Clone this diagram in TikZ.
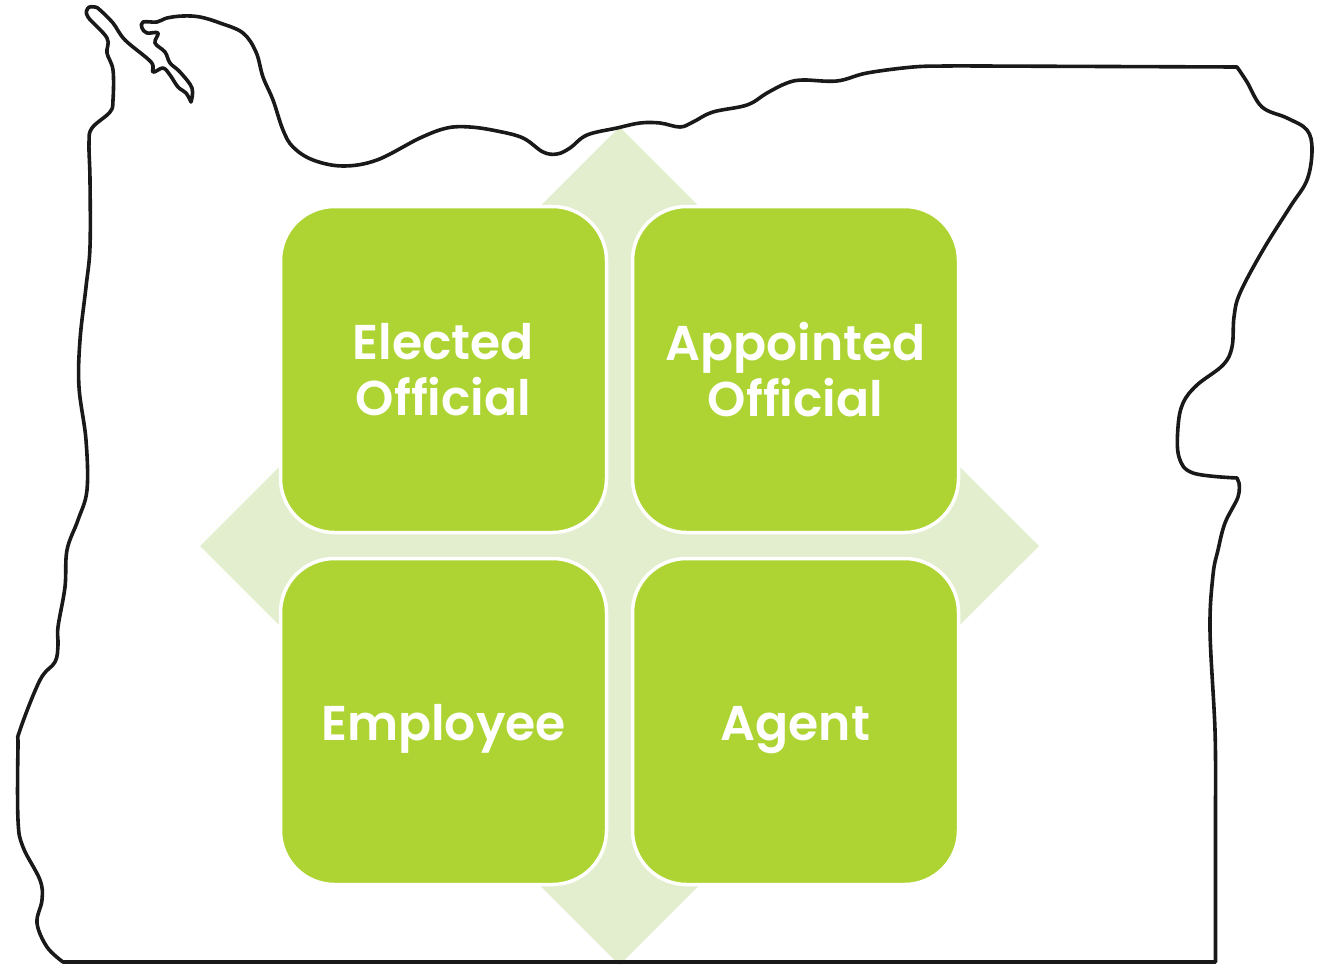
\documentclass[tikz,border=0pt]{standalone}
\usepackage{fontspec}
\setmainfont{Poppins}[BoldFont={Poppins SemiBold}]
\definecolor{cellgreen}{HTML}{AED434}
\definecolor{palegreen}{HTML}{E3EECF}
\tikzset{
  cell/.style={draw=white,line width=3.5pt,fill=cellgreen,rounded corners=54pt,minimum width=326pt,minimum height=326pt,inner sep=0pt,
    text=white,align=center,font=\fontsize{48.8}{56.5}\selectfont\bfseries},
  oneline/.style={text height=37pt,text depth=0pt},
  coast/.style={draw=black!90,line width=3.6pt,line join=round,line cap=round},
  diamondfill/.style={fill=palegreen}
}
\begin{document}
\begin{tikzpicture}[x=1pt,y=-1pt]
\useasboundingbox (0,0) rectangle (1325,964);
\path[diamondfill] (619.5,127) -- (1039,546) -- (619.5,965) -- (200,546) -- cycle;
\node[cell] (elected) at (443.5,369.5) {Elected\\Official};
\node[cell] (appointed) at (795.5,369.5) {Appointed\\Official};
\node[cell,oneline] (employee) at (443.5,721.5) {Employee};
\node[cell,oneline] (agent) at (795.5,721.5) {Agent};
\draw[coast] plot[smooth,tension=.6] coordinates {(191,102)(192,88)(180,72)(170,63)(165,52)(155,43)(158,33)(147,33)(142,28)(143,22)(157,22)(167,18)(183,16)(200,17)(220,23)(243,33)(256,52)(263,77)(273,100)(283,130)(293,147)(313,160)(343,166)(377,160)(420,138)(447,128)(470,127)(497,131)(523,138)(543,152)(557,154)(570,148)(587,135)(617,128)(640,123)(660,123)(680,127)(693,122)(713,112)(747,105)(767,93)(787,83)(803,80)(837,81)(867,73)(913,67)(947,66)(980,66)}
 -- (1237,67)
 -- plot[smooth,tension=.6] coordinates {(1237,67)(1247,82)(1262,107)(1287,118)(1307,130)(1312,150)(1307,180)(1290,207)(1263,250)(1240,293)(1234,317)(1232,347)(1223,365)(1197,385)(1183,403)(1178,427)(1179,457)(1193,473)(1237,478)}
 -- plot[smooth,tension=.6] coordinates {(1239,483)(1238,497)(1225,523)(1218,550)(1213,575)(1210,630)(1215,730)(1215.5,800)}
 -- (1215.5,962)
 -- (63,962)
 -- plot[smooth,tension=.6] coordinates {(63,962)(47,947)(37,923)(42,900)(40,880)(23,847)(18,820)(18,747)(20,730)(40,680)(55,662)(58,645)(58,627)(65,587)(67,550)(78,520)(87,490)(86,440)(79,387)(80,340)(86,287)(90,247)(90,180)(89,143)(92,128)(110,112)(113,100)(113,70)(107,53)(107,38)(88,17)(88,8)(95,7)(100,10)(113,23)(125,40)(151,62)(153,72)(163,68)(170,75)(178,87)(186,93)(191,102)};
\end{tikzpicture}
\end{document}
